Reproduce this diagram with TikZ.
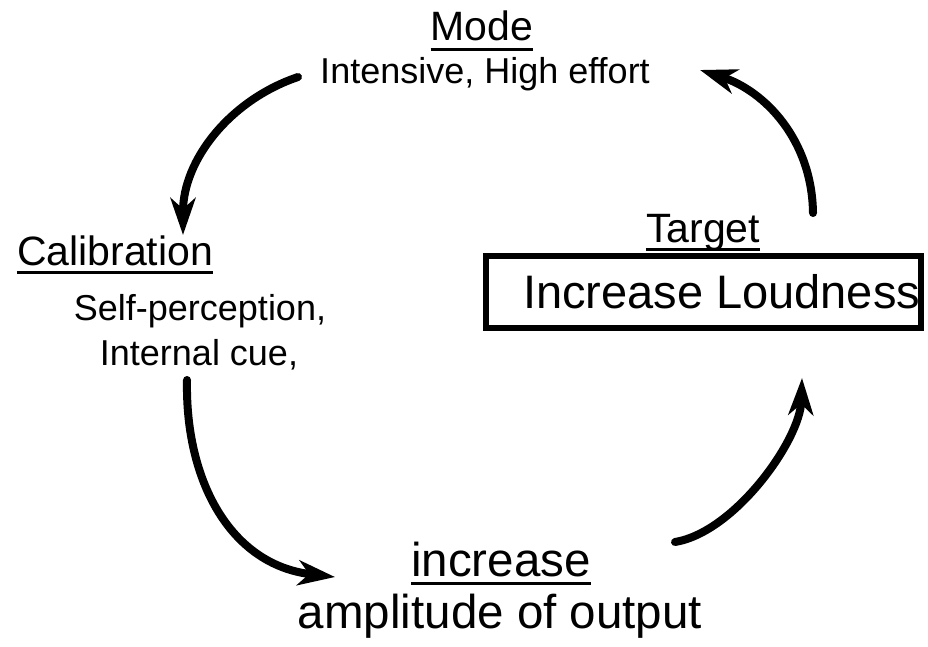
\documentclass[tikz,border=0pt]{standalone}
\usepackage{fontspec}
\setmainfont{Liberation Sans}
\usetikzlibrary{arrows.meta}

\tikzset{
  label/.style={inner sep=0pt, anchor=base},
  head/.style={label, font=\fontsize{41}{48}\selectfont},
  body/.style={label, font=\fontsize{36}{43}\selectfont},
  big/.style={label, font=\fontsize{47.5}{56}\selectfont},
  uline/.style={line width=3pt},
  flow/.style={line width=8pt, line cap=round,
    -{Stealth[length=37pt, width=25pt, inset=11pt]}},
  goalbox/.style={draw, line width=6pt, inner xsep=37pt, inner ysep=0pt,
    minimum height=72pt, font=\fontsize{47}{55}\selectfont}
}

\begin{document}
\begin{tikzpicture}[x=1pt, y=-1pt]
  \useasboundingbox (0,0) rectangle (928,646);

  % mode (top)
  \node[head] (mode) at (482,40) {Mode};
  \draw[uline] ([yshift=-9pt]mode.base west) -- ([yshift=-9pt]mode.base east);
  \node[body] (modetext) at (485,83) {Intensive, High effort};

  % calibration (left)
  \node[head] (calib) at (115,265) {Calibration};
  \draw[uline] ([yshift=-7pt]calib.base west) -- ([yshift=-7pt]calib.base east);
  \node[body] (calib1) at (200,320) {Self-perception,};
  \node[body] (calib2) at (199,365) {Internal cue,};

  % target (right)
  \node[head] (target) at (703,242) {Target};
  \draw[uline] ([yshift=-7pt]target.base west) -- ([yshift=-7pt]target.base east);
  \node[goalbox] (goal) at (703.5,292) {\makebox[361pt][l]{Increase Loudness}};

  % output (bottom)
  \node[big] (incr) at (501,576) {increase};
  \draw[uline] ([yshift=-7pt]incr.base west) -- ([yshift=-7pt]incr.base east);
  \node[big] (ampl) at (500,628) {amplitude of output};

  % connector end points
  \coordinate (a1s) at (298,77);
  \coordinate (a1e) at (183,235);
  \coordinate (a2s) at (813,213);
  \coordinate (a2e) at (700,70);
  \coordinate (a3s) at (187,380);
  \coordinate (a3e) at (335,577);
  \coordinate (a4s) at (675,542);
  \coordinate (a4e) at (802,378);

  % cycle arrows
  \draw[flow] (a1s) .. controls (230,100) and (183,160) .. (a1e);
  \draw[flow] (a2s) .. controls (812,140) and (765,91) .. (a2e);
  \draw[flow] (a3s) .. controls (185,480) and (230,565) .. (a3e);
  \draw[flow] (a4s) .. controls (735,532) and (800,440) .. (a4e);
\end{tikzpicture}
\end{document}
